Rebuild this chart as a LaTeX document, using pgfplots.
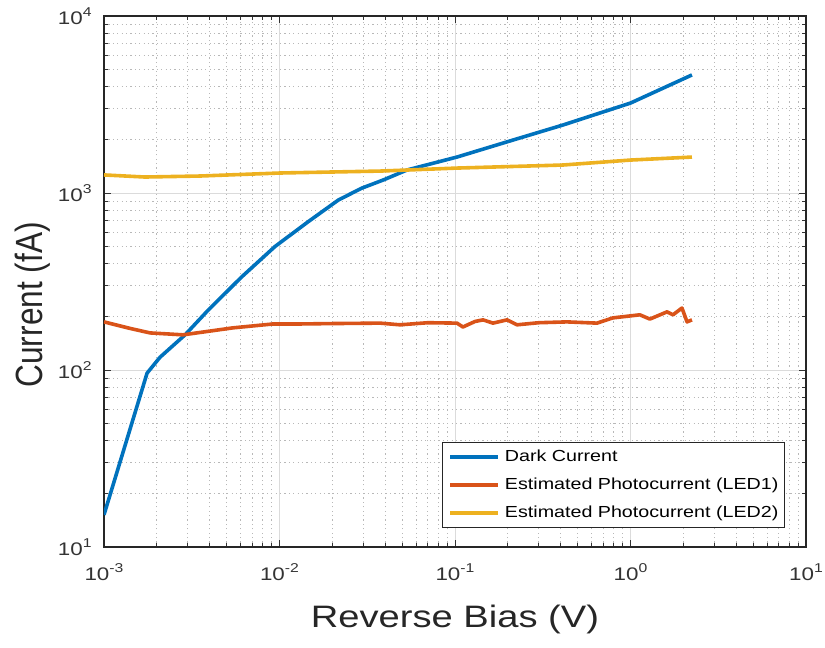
\documentclass[border=0pt]{standalone}
\usepackage{fontspec}
\setmainfont{Liberation Sans}[FakeStretch=1.23]
\newfontfamily\plainfont{Liberation Sans}
\usepackage{graphicx}
\usepackage{pgfplots}
\pgfplotsset{compat=1.18}
\definecolor{mblue}{RGB}{0,114,189}
\definecolor{morange}{RGB}{217,83,25}
\definecolor{myellow}{RGB}{237,177,32}
\newcommand{\tl}[1]{\pgfmathparse{int(round(#1/2.302585093))}10\raisebox{4pt}{\fontsize{6.4}{7}\selectfont\pgfmathresult}}
\begin{document}
\begin{tikzpicture}
\useasboundingbox (-52pt,-50.5pt) rectangle (360.5pt,273.5pt);
\begin{axis}[
  at={(0pt,0pt)}, anchor=south west,
  scale only axis, width=351pt, height=265.5pt,
  xmode=log, ymode=log,
  xmin=0.001, xmax=10, ymin=10, ymax=10000,
  xtick={0.001,0.01,0.1,1,10}, ytick={10,100,1000,10000},
  xticklabel={\tl{\tick}}, yticklabel={\tl{\tick}},
  tick label style={font=\fontsize{9.1}{10}\selectfont, text=black!80},
  xticklabel style={inner ysep=0pt, yshift=-8pt},
  yticklabel style={inner xsep=0pt, xshift=-6pt},
  tick align=inside,
  major tick length=3.5pt, minor tick length=2pt,
  every tick/.style={black!80, line width=0.4pt},
  axis line style={black!85, line width=0.6pt},
  grid=both,
  major grid style={color=black!14, line width=0.4pt},
  minor grid style={color=black!28, line width=0.4pt, dash pattern=on 0.6pt off 1.6pt},
  xlabel={Reverse Bias (V)},
  xlabel style={at={(axis description cs:0.5,-0.1507)}, anchor=base, font=\fontsize{15.5}{18}\selectfont, text=black!85},
  ylabel={\scalebox{1}[1.2]{\plainfont\fontsize{15.8}{18}\selectfont Current (fA)}},
  ylabel style={at={(axis description cs:-0.0883,0.456)}, anchor=base, text=black!85},
  legend cell align=left,
  legend style={at={(0.97,0.036)}, anchor=south east, draw=black!85, line width=0.5pt, fill=white,
    font=\fontsize{8}{9}\selectfont, inner xsep=3pt, inner ysep=3.4pt, row sep=6.2pt,
    nodes={inner sep=0pt, text height=6pt, text depth=1.7pt}},
  legend image code/.code={\draw[#1, line width=1.8pt] (0pt,0pt) -- (24pt,0pt);},
  legend style={/tikz/every odd column/.append style={column sep=2.5pt}},
]
\addplot[mblue, line width=1.8pt, line join=round] coordinates {
(0.001,15.2) (0.00176,96) (0.002085,118) (0.002897,158) (0.003926,218) (0.006095,336)
(0.009419,498) (0.01459,689) (0.02163,912) (0.02937,1064) (0.03899,1184)
(0.0533,1349) (0.1026,1596) (0.2138,1991) (0.412,2421) (1.0,3222) (2.24,4645)};
\addlegendentry{Dark Current}
\addplot[morange, line width=1.8pt, line join=round] coordinates {
(0.001,187) (0.0014,172) (0.00183,162) (0.00282,158) (0.00543,173) (0.00918,182) (0.0131,182)
(0.02,183) (0.0374,184) (0.0486,180) (0.07,185) (0.1026,184) (0.111,175) (0.13,188)
(0.1445,192) (0.1647,184) (0.198,192) (0.2255,180) (0.3,185) (0.4345,187) (0.644,184)
(0.794,197) (1.13,205) (1.29,194) (1.614,213) (1.747,205) (1.965,224) (2.10,187) (2.24,192)};
\addlegendentry{Estimated Photocurrent (LED1)}
\addplot[myellow, line width=1.8pt, line join=round] coordinates {
(0.001,1265) (0.00171,1231) (0.00352,1247) (0.01006,1297) (0.0374,1330) (0.1026,1383)
(0.412,1439) (1.0,1535) (2.24,1596)};
\addlegendentry{Estimated Photocurrent (LED2)}
\end{axis}
\end{tikzpicture}
\end{document}
